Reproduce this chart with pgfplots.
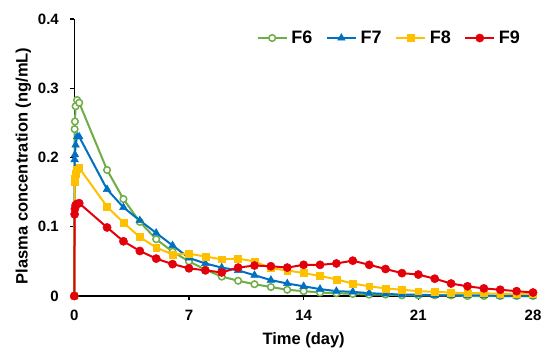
\documentclass[border=0pt]{standalone}
\usepackage{fontspec}
\setmainfont{Liberation Sans}
\usepackage{pgfplots}
\pgfplotsset{compat=1.18}
\definecolor{cF6}{RGB}{112,173,71}
\definecolor{cF7}{RGB}{0,112,192}
\definecolor{cF8}{RGB}{255,192,0}
\definecolor{cF9}{RGB}{228,0,10}
\begin{document}
\begin{tikzpicture}
\begin{axis}[
  scale only axis,
  width=458.7bp, height=277bp,
  xmin=0, xmax=28, ymin=0, ymax=0.4,
  clip=false,
  axis lines=left,
  axis line style={-, line width=1.5pt, black},
  xtick={0,7,14,21,28},
  ytick={0,0.1,0.2,0.3,0.4},
  yticklabels={0,0.1,0.2,0.3,0.4},
  tick align=outside,
  major tick length=4bp,
  tick style={line width=1.5pt, black},
  /pgf/number format/assume math mode=true,
  ticklabel style={font=\fontsize{15bp}{18bp}\selectfont\bfseries},
  xticklabel style={yshift=-7bp},
  yticklabel style={xshift=-8bp},
  xlabel={Time (day)},
  ylabel={Plasma concentration (ng/mL)},
  label style={font=\fontsize{16.5bp}{19bp}\selectfont\bfseries},
  xlabel style={at={(axis description cs:0.5,0)}, anchor=north, yshift=-36bp, inner sep=0pt},
  ylabel style={at={(axis description cs:-0.1112,0.47)}, anchor=center, inner sep=0pt},
  legend columns=-1,
  legend style={at={(rel axis cs:1,1)}, xshift=-13bp, yshift=-12bp, anchor=north east,
    draw=none, fill=none, inner sep=0pt, outer sep=0pt,
    font=\fontsize{18bp}{20bp}\selectfont\bfseries,
    nodes={inner sep=0pt, anchor=west},
    /tikz/every odd column/.append style={column sep=3.7bp},
    /tikz/every even column/.append style={column sep=13.5bp}},
  legend image code/.code={\draw[mark repeat=2, mark phase=2] plot coordinates {(0bp,0bp) (14.5bp,0bp) (29bp,0bp)};},
  every axis plot/.append style={line width=2bp},
]
\addplot[color=cF6, mark=*, mark size=3.3bp, mark options={fill=white, line width=1.5bp}] coordinates {
(0,0) (0.02,0.241) (0.04,0.252) (0.08,0.274) (0.17,0.283) (0.3,0.279)
(2,0.182) (3,0.140) (4,0.107) (5,0.082) (6,0.064) (7,0.050) (8,0.038) (9,0.028)
(10,0.022) (11,0.017) (12,0.013) (13,0.009) (14,0.007) (15,0.005) (16,0.004)
(17,0.003) (18,0.002) (19,0.002) (20,0.001) (21,0.001) (22,0.001) (23,0.001)
(24,0) (25,0) (26,0) (27,0) (28,0)};
\addlegendentry{F6}
\addplot[color=cF7, mark=triangle*, mark size=4.4bp, mark options={line width=0.5bp}] coordinates {
(0,0) (0.02,0.197) (0.04,0.204) (0.08,0.218) (0.17,0.230) (0.3,0.230)
(2,0.154) (3,0.128) (4,0.109) (5,0.091) (6,0.073) (7,0.055) (8,0.047) (9,0.041)
(10,0.037) (11,0.030) (12,0.023) (13,0.018) (14,0.014) (15,0.010) (16,0.007)
(17,0.006) (18,0.004) (19,0.003) (20,0.002) (21,0.002) (22,0.001) (23,0.001)
(24,0.001) (25,0.001) (26,0) (27,0) (28,0)};
\addlegendentry{F7}
\addplot[color=cF8, mark=square*, mark size=3.4bp, mark options={line width=0.5bp}] coordinates {
(0,0) (0.02,0.165) (0.04,0.170) (0.08,0.176) (0.17,0.183) (0.3,0.185)
(2,0.129) (3,0.106) (4,0.085) (5,0.070) (6,0.060) (7,0.061) (8,0.057) (9,0.053)
(10,0.054) (11,0.050) (12,0.040) (13,0.037) (14,0.033) (15,0.029) (16,0.024)
(17,0.018) (18,0.014) (19,0.011) (20,0.009) (21,0.007) (22,0.006) (23,0.005)
(24,0.004) (25,0.004) (26,0.003) (27,0.003) (28,0.003)};
\addlegendentry{F8}
\addplot[color=cF9, mark=*, mark size=4.1bp, mark options={line width=0.5bp}] coordinates {
(0,0) (0.02,0.118) (0.04,0.126) (0.08,0.131) (0.17,0.133) (0.3,0.134)
(2,0.099) (3,0.079) (4,0.065) (5,0.054) (6,0.046) (7,0.040) (8,0.037) (9,0.034)
(10,0.041) (11,0.044) (12,0.043) (13,0.041) (14,0.045) (15,0.045) (16,0.047)
(17,0.051) (18,0.045) (19,0.039) (20,0.033) (21,0.031) (22,0.025) (23,0.018)
(24,0.014) (25,0.011) (26,0.009) (27,0.007) (28,0.005)};
\addlegendentry{F9}
\end{axis}
\path[use as bounding box] (-74.3bp,-63bp) rectangle (475.7bp,296bp);
\end{tikzpicture}
\end{document}
